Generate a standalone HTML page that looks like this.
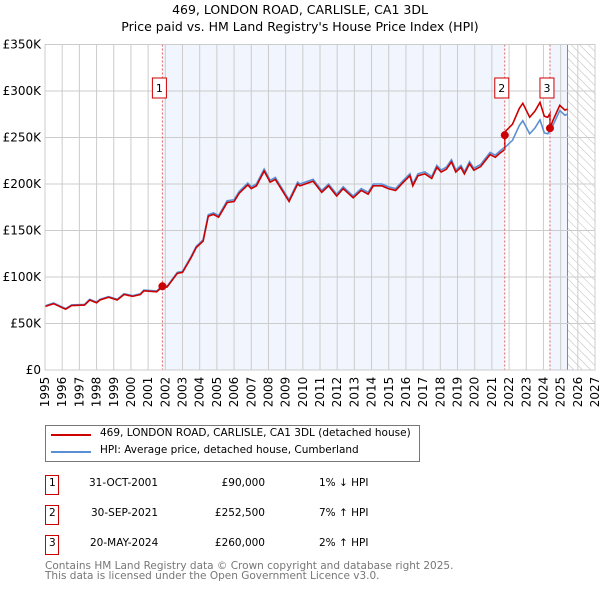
<!DOCTYPE html>
<html><head><meta charset="utf-8"><style>
body{margin:0;background:#fff;font-family:"DejaVu Sans","Liberation Sans",sans-serif;}
#wrap{position:relative;width:600px;height:590px;overflow:hidden}
.t{position:absolute;font-size:10.5px;color:#000;white-space:nowrap}
</style></head><body><div id="wrap">
<svg id="c" width="600" height="590" style="position:absolute;left:0;top:0"></svg>
</div>
<script>
const hpiYears=[1995,1995.5,1996.2,1996.55,1997.3,1997.6,1998,1998.2,1998.7,1999.2,1999.6,2000.1,2000.55,2000.75,2001.5,2001.8,2002.1,2002.7,2003,2003.5,2003.8,2004.2,2004.5,2004.8,2005.1,2005.6,2006,2006.3,2006.8,2007,2007.3,2007.75,2008.1,2008.4,2008.8,2009.2,2009.7,2009.83,2010.6,2011.1,2011.5,2011.97,2012.35,2012.93,2013.4,2013.8,2014.1,2014.6,2014.97,2015.4,2015.85,2016.23,2016.4,2016.7,2017.1,2017.5,2017.8,2018.05,2018.35,2018.65,2018.9,2019.2,2019.4,2019.7,2019.95,2020.35,2020.6,2020.9,2021.2,2021.5,2021.8,2022.2,2022.6,2022.8,2023.2,2023.5,2023.8,2024.05,2024.25,2024.55,2024.95,2025.25,2025.4];
const hpiValues=[69,72,66,70,70.5,76,73,76,79,76,82,80,82,86,85,90,90,105,106,122,133,140,167,169,166,182,183,192,201,197,200,216,204,207,195,183,202,200,205,193,200,189,197,187,195,191,200,200,197,195,204,211,200,211,213,208,220,215,218,226,215,220,213,224,217,221,227,234,231,236,240,247,263,268,254,260,269,255,254,263,279,274,275];
const saleYears=[2001.83,2021.75,2024.38];
const salePrices=[90,252.5,260];
const saleLabels=["1","2","3"];
const saleFactors=[0.99,1.07,1.02];
const yTicks=[0,50,100,150,200,250,300,350];
const yTickLabels=["£0","£50K","£100K","£150K","£200K","£250K","£300K","£350K"];
const xTicks=[1995,1996,1997,1998,1999,2000,2001,2002,2003,2004,2005,2006,2007,2008,2009,2010,2011,2012,2013,2014,2015,2016,2017,2018,2019,2020,2021,2022,2023,2024,2025,2026,2027];

const L=45,R=595,T=44.5,B=370;
const X=y=>L+(y-1995)/(2027-1995)*(R-L);
const Y=v=>B-v/350*(B-T);
const svg=document.getElementById('c');
const NS="http://www.w3.org/2000/svg";
function el(tag,attrs,parent){const e=document.createElementNS(NS,tag);for(const k in attrs)e.setAttribute(k,attrs[k]);(parent||svg).appendChild(e);return e;}

const defs=el('defs',{});
const pat=el('pattern',{id:'hatch',width:6,height:6,patternUnits:'userSpaceOnUse',patternTransform:'rotate(-45)'},defs);
el('line',{x1:0,y1:0,x2:0,y2:6,stroke:'#bbb','stroke-width':1},pat);

let r=el('rect',{x:X(saleYears[0]),y:T,width:X(saleYears[1])-X(saleYears[0]),height:B-T,fill:'#eef3fc',opacity:0.8});

const lastYear=hpiYears[hpiYears.length-1];
r=el('rect',{x:X(saleYears[2]),y:T,width:X(lastYear)-X(saleYears[2]),height:B-T,fill:'#eef3fc',opacity:0.8});

r=el('rect',{x:X(lastYear),y:T,width:R-X(lastYear),height:B-T,fill:'url(#hatch)'});

el('line',{x1:X(lastYear),x2:X(lastYear),y1:T,y2:B,stroke:'#888','stroke-width':1});

xTicks.forEach(t=>{el('line',{x1:X(t),x2:X(t),y1:T,y2:B,stroke:'#ccc','stroke-width':1});
 const tx=el('text',{x:0,y:0,transform:`translate(${X(t)+4},${B+22}) rotate(-90)`,'font-size':12,'font-family':'DejaVu Sans, sans-serif','text-anchor':'middle'});tx.textContent=t;
 });
yTicks.forEach((t,i)=>{el('line',{x1:L,x2:R,y1:Y(t),y2:Y(t),stroke:'#ccc','stroke-width':1});
 const tx=el('text',{x:L-4,y:Y(t)+4,'font-size':12,'font-family':'DejaVu Sans, sans-serif','text-anchor':'end'});tx.textContent=yTickLabels[i];
 });

const hp=hpiYears.map((y,i)=>`${X(y)},${Y(hpiValues[i])}`).join(' ');
const hl=el('polyline',{points:hp,fill:'none',stroke:'#5b8fd4','stroke-width':1.6});

function fac(y){return y<saleYears[1]?saleFactors[0]:(y<saleYears[2]?saleFactors[1]:saleFactors[2]);}
let pts=[];
hpiYears.forEach((y,i)=>{
 saleYears.forEach((s,j)=>{if(j>0&&i>0&&hpiYears[i-1]<s&&y>=s){const v0=hpiValues[i-1]+(hpiValues[i]-hpiValues[i-1])*(s-hpiYears[i-1])/(y-hpiYears[i-1]);pts.push([s,v0*saleFactors[j-1]]);pts.push([s,salePrices[j]]);}});
 pts.push([y,hpiValues[i]*fac(y)]);});
const rl=el('polyline',{points:pts.map(p=>`${X(p[0])},${Y(p[1])}`).join(' '),fill:'none',stroke:'#cc0000','stroke-width':1.6});


saleYears.forEach((s,i)=>{
 el('line',{x1:X(s),x2:X(s),y1:T,y2:B,stroke:'#e06060','stroke-width':1,'stroke-dasharray':'2,2'});
 const c=el('circle',{cx:X(s),cy:Y(salePrices[i]),r:4,fill:'#cc0000'});
 
 const b=el('rect',{x:X(s)-10,y:78,width:14,height:20,fill:'#fff',stroke:'#cc0000','stroke-width':1});
 
 const tx=el('text',{x:X(s)-3,y:92,'font-size':11,'font-family':'DejaVu Sans, sans-serif','text-anchor':'middle'});tx.textContent=saleLabels[i];
});
el('rect',{x:L,y:T,width:R-L,height:B-T,fill:'none',stroke:'#ccc'});
</script>
<div class="t" style="left:0;width:600px;text-align:center;top:2px;font-size:12.5px">469, LONDON ROAD, CARLISLE, CA1 3DL</div>
<div class="t" style="left:0;width:600px;text-align:center;top:19px;font-size:12.5px">Price paid vs. HM Land Registry's House Price Index (HPI)</div>
<div style="position:absolute;left:45px;top:425px;width:373px;height:35px;border:1px solid #777">
 <div style="position:absolute;left:5px;top:8px;width:40px;height:2px;background:#cc0000"></div>
 <div class="t" style="left:54px;top:1px">469, LONDON ROAD, CARLISLE, CA1 3DL (detached house)</div>
 <div style="position:absolute;left:5px;top:25px;width:40px;height:2px;background:#5b8fd4"></div>
 <div class="t" style="left:54px;top:18px">HPI: Average price, detached house, Cumberland</div>
</div>
<div>
 <div style="position:absolute;left:45px;top:475px;width:12px;height:18px;border:1px solid #cc0000"></div><div class="t" style="left:49px;top:477px">1</div>
 <div class="t" style="left:89px;top:477px">31-OCT-2001</div>
 <div class="t" style="left:200px;width:65px;text-align:right;top:477px">£90,000</div>
 <div class="t" style="left:319px;top:477px">1% ↓ HPI</div>
 <div style="position:absolute;left:45px;top:505px;width:12px;height:18px;border:1px solid #cc0000"></div><div class="t" style="left:49px;top:507px">2</div>
 <div class="t" style="left:91px;top:507px">30-SEP-2021</div>
 <div class="t" style="left:200px;width:65px;text-align:right;top:507px">£252,500</div>
 <div class="t" style="left:319px;top:507px">7% ↑ HPI</div>
 <div style="position:absolute;left:45px;top:535px;width:12px;height:18px;border:1px solid #cc0000"></div><div class="t" style="left:49px;top:537px">3</div>
 <div class="t" style="left:90px;top:537px">20-MAY-2024</div>
 <div class="t" style="left:200px;width:65px;text-align:right;top:537px">£260,000</div>
 <div class="t" style="left:319px;top:537px">2% ↑ HPI</div>
</div>
<div class="t" style="left:45px;top:561px;color:#777;line-height:10px">Contains HM Land Registry data © Crown copyright and database right 2025.<br>This data is licensed under the Open Government Licence v3.0.</div>
</body></html>
